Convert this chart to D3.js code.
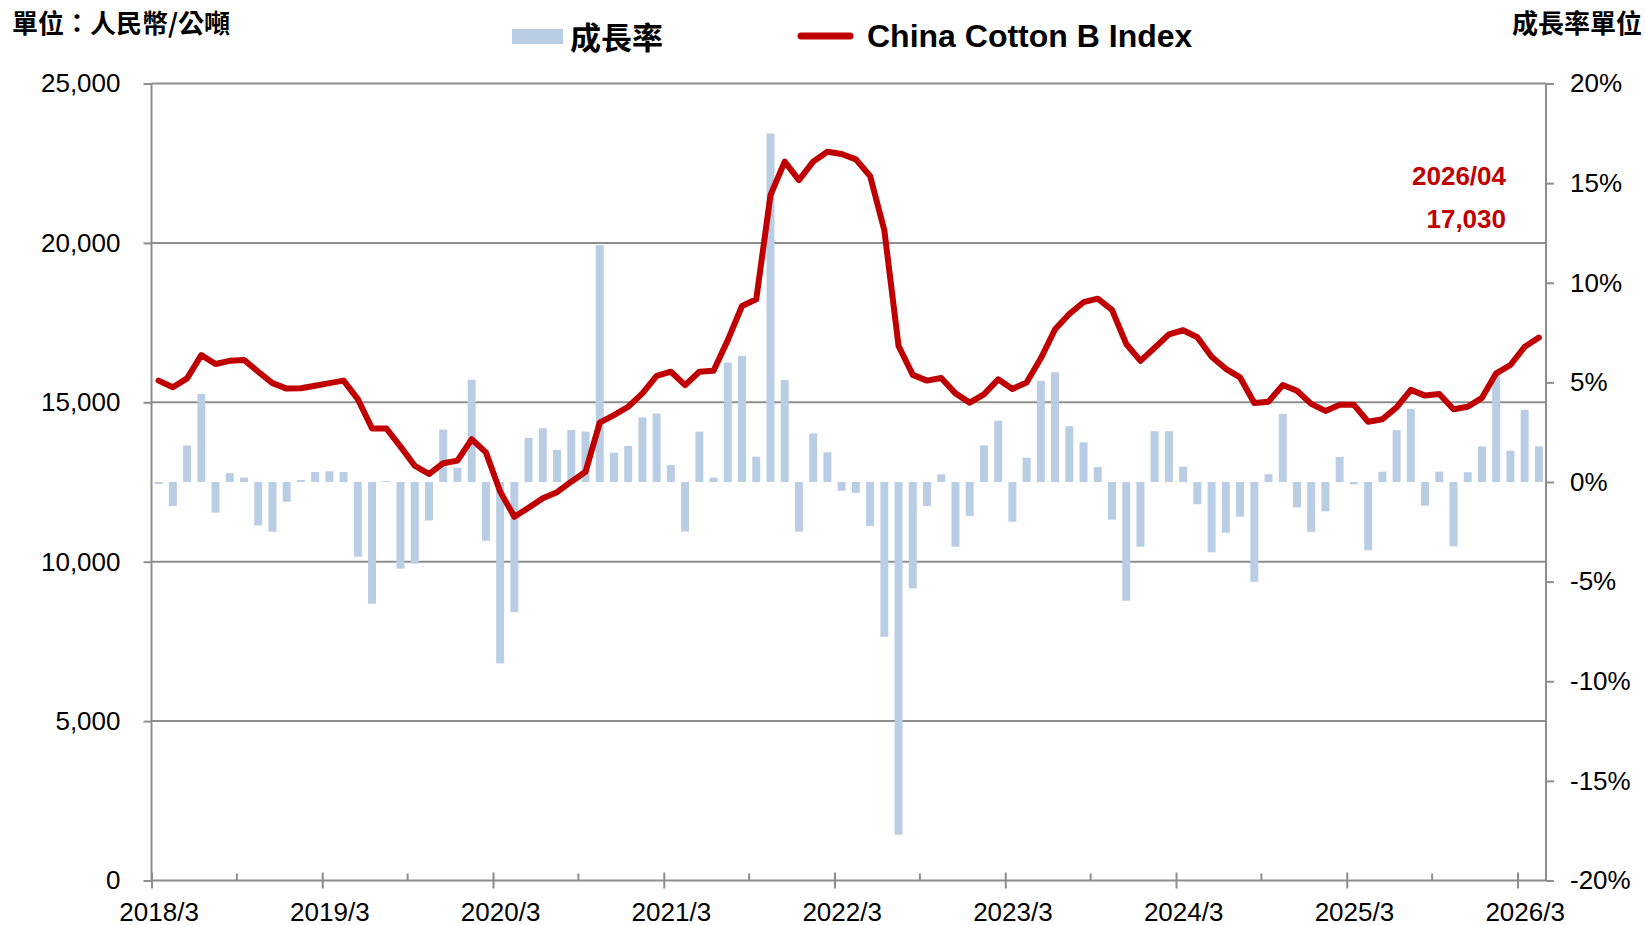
<!DOCTYPE html>
<html>
<head>
    <meta charset="utf-8">
    <title>China Cotton B Index</title>
    <style>
        body { margin: 0; background: #fff; }
        text { font-family: "Liberation Sans", Arial, "Noto Sans CJK TC", sans-serif; }
        .cjk { font-family: "Noto Sans CJK TC", "Noto Sans CJK SC", sans-serif; }
    </style>
</head>
<body>
<div id="chart"></div>
<script src="https://cdn.jsdelivr.net/npm/d3@7/dist/d3.min.js"></script>
<script>

    // monthly categories, 2018/03 .. 2026/04
    let months = [];
    for (let yr = 2018; yr <= 2026; yr++) {
        for (let m = 1; m <= 12; m++) {
            if ((yr === 2018 && m < 3) || (yr === 2026 && m > 4)) continue;
            months.push(yr + '/' + (m < 10 ? '0' + m : m));
        }
    }

    // China Cotton B Index, RMB / ton
    let price = [
        15680, 15470, 15750, 16480, 16200, 16300, 16330, 15960, 15600, 15430,
        15440, 15520, 15600, 15680, 15100, 14180, 14180, 13610, 13010, 12750,
        13090, 13170, 13840, 13430, 12200, 11410, 11690, 11990, 12180, 12510,
        12820, 14360, 14600, 14860, 15280, 15830, 15960, 15540, 15960, 15990,
        16950, 18020, 18230, 21500, 22550, 21970, 22550, 22860, 22790, 22620,
        22100, 20400, 16770, 15860, 15680, 15760, 15280, 14990, 15250, 15720,
        15420, 15620, 16380, 17290, 17770, 18140, 18250, 17900, 16830, 16300,
        16710, 17130, 17260, 17040, 16430, 16050, 15780, 14980, 15020, 15540,
        15360, 14950, 14730, 14920, 14920, 14390, 14470, 14840, 15390, 15210,
        15260, 14780, 14860, 15140, 15910, 16170, 16740, 17030
    ];

    // monthly growth rate, %
    let growth = [
        -0.10, -1.20, 1.83, 4.42, -1.54, 0.44, 0.22, -2.18, -2.50, -0.99,
        0.10, 0.50, 0.54, 0.50, -3.75, -6.11, 0.05, -4.35, -4.10, -1.93,
        2.63, 0.72, 5.13, -2.95, -9.10, -6.53, 2.21, 2.70, 1.61, 2.61,
        2.53, 11.89, 1.47, 1.81, 3.24, 3.44, 0.85, -2.49, 2.53, 0.22,
        5.99, 6.32, 1.27, 17.49, 5.12, -2.49, 2.44, 1.49, -0.44, -0.54,
        -2.21, -7.77, -17.70, -5.34, -1.20, 0.38, -3.25, -1.71, 1.83, 3.08,
        -1.99, 1.22, 5.08, 5.51, 2.80, 1.99, 0.75, -1.89, -5.96, -3.25,
        2.55, 2.55, 0.77, -1.12, -3.53, -2.55, -1.74, -5.01, 0.39, 3.42,
        -1.27, -2.50, -1.47, 1.26, -0.12, -3.43, 0.52, 2.60, 3.67, -1.19,
        0.52, -3.23, 0.49, 1.78, 5.40, 1.57, 3.62, 1.79
    ];

    let xTickLabels = ['2018/3', '2019/3', '2020/3', '2021/3', '2022/3',
                       '2023/3', '2024/3', '2025/3', '2026/3'];
    let leftTicks = [0, 5000, 10000, 15000, 20000, 25000];
    let rightTicks = [-20, -15, -10, -5, 0, 5, 10, 15, 20];

    function translate(x, y) {
        return 'translate(' + x + ', ' + y + ')';
    }

    let svgWidth = 1645;
    let svgHeight = 925;
    let plotLeft = 151.5, plotRight = 1546, plotTop = 83.5, plotBottom = 880.5;
    let red = '#C00000';
    let barColor = '#B9CDE5';
    let gridColor = '#8E8E8E';

    let svg = d3.select('#chart')
        .append('svg')
        .attr('width', svgWidth)
        .attr('height', svgHeight);

    let x = d3.scaleBand()
        .domain(months)
        .range([plotLeft, plotRight])
        .paddingInner(0.44)
        .paddingOuter(0.22);

    // boundary scale for tick marks between categories
    let xi = d3.scaleLinear().domain([0, months.length]).range([plotLeft, plotRight]);

    let y = d3.scaleLinear().domain([0, 25000]).range([plotBottom, plotTop]);
    let yR = d3.scaleLinear().domain([-20, 20]).range([plotBottom, plotTop]);

    // gridlines
    svg.append('g')
        .selectAll('line')
        .data(leftTicks.filter(d => d > 0))
        .enter()
        .append('line')
          .attr('x1', plotLeft)
          .attr('x2', plotRight)
          .attr('y1', d => y(d))
          .attr('y2', d => y(d))
          .style('stroke', gridColor)
          .style('stroke-width', 2);

    // growth bars
    svg.append('g')
        .selectAll('rect')
        .data(growth)
        .enter()
        .append('rect')
          .attr('x', (d, i) => x(months[i]))
          .attr('width', x.bandwidth())
          .attr('y', d => yR(Math.max(d, 0)))
          .attr('height', d => Math.abs(yR(d) - yR(0)))
          .style('fill', barColor);

    // left axis
    let yAxis = d3.axisLeft(y)
        .tickValues(leftTicks)
        .tickSize(8)
        .tickPadding(23)
        .tickFormat(d3.format(','));
    let gl = svg.append('g')
        .attr('transform', translate(plotLeft, 0))
        .call(yAxis);

    // right axis
    let yRAxis = d3.axisRight(yR)
        .tickValues(rightTicks)
        .tickSize(8)
        .tickPadding(16)
        .tickFormat(d => d + '%');
    let gr = svg.append('g')
        .attr('transform', translate(plotRight, 0))
        .call(yRAxis);

    // bottom axis, major ticks every 12 months and minor every 6,
    // labels centred on the month they name
    let xAxis = d3.axisBottom(xi)
        .tickValues(d3.range(0, 97, 12))
        .tickSize(8)
        .tickFormat((d, i) => xTickLabels[i]);
    let gx = svg.append('g')
        .attr('transform', translate(0, plotBottom))
        .call(xAxis);
    gx.selectAll('.tick line').attr('y1', -8).attr('y2', 8);
    gx.selectAll('.tick text')
        .attr('x', x.step() / 2)
        .attr('y', 40)
        .attr('dy', 0);

    svg.append('g')
        .selectAll('line')
        .data(d3.range(6, 97, 12))
        .enter()
        .append('line')
          .attr('x1', d => xi(d))
          .attr('x2', d => xi(d))
          .attr('y1', plotBottom - 7)
          .attr('y2', plotBottom)
          .style('stroke', gridColor)
          .style('stroke-width', 2);

    [gl, gr, gx].forEach(function(g) {
        g.selectAll('.domain').style('stroke', gridColor).style('stroke-width', 2);
        g.selectAll('.tick line').style('stroke', gridColor).style('stroke-width', 2);
        g.selectAll('.tick text')
          .style('font-size', '26px')
          .style('fill', '#000');
    });
    gl.select('.domain').attr('d', 'M0,' + plotTop + 'V' + plotBottom);
    gr.select('.domain').attr('d', 'M0,' + plotTop + 'V' + plotBottom);
    gx.select('.domain').attr('d', 'M' + plotLeft + ',0H' + plotRight);

    // price line
    let line = d3.line()
        .x((d, i) => x(months[i]) + x.bandwidth() / 2)
        .y(d => y(d));

    svg.append('path')
        .datum(price)
        .attr('d', line)
        .style('fill', 'none')
        .style('stroke', red)
        .style('stroke-width', 6)
        .style('stroke-linejoin', 'round')
        .style('stroke-linecap', 'round');

    // last value note
    let last = months.length - 1;
    svg.append('text')
        .attr('x', 1506)
        .attr('y', 185)
        .style('text-anchor', 'end')
        .style('font-size', '26px')
        .style('font-weight', 'bold')
        .style('fill', red)
        .text(months[last]);
    svg.append('text')
        .attr('x', 1506)
        .attr('y', 228)
        .style('text-anchor', 'end')
        .style('font-size', '26px')
        .style('font-weight', 'bold')
        .style('fill', red)
        .text(d3.format(',')(price[last]));

    // unit labels
    svg.append('text')
        .attr('class', 'cjk')
        .attr('x', 12)
        .attr('y', 33)
        .style('font-size', '26px')
        .style('font-weight', 'bold')
        .text('單位：人民幣/公噸');
    svg.append('text')
        .attr('class', 'cjk')
        .attr('x', 1642)
        .attr('y', 33)
        .style('text-anchor', 'end')
        .style('font-size', '26px')
        .style('font-weight', 'bold')
        .text('成長率單位');

    // legend
    svg.append('rect')
        .attr('x', 512)
        .attr('y', 29)
        .attr('width', 51)
        .attr('height', 15)
        .style('fill', barColor);
    svg.append('text')
        .attr('class', 'cjk')
        .attr('x', 570)
        .attr('y', 49)
        .style('font-size', '31px')
        .style('font-weight', 'bold')
        .text('成長率');
    svg.append('line')
        .attr('x1', 801)
        .attr('x2', 850)
        .attr('y1', 36)
        .attr('y2', 36)
        .style('stroke', red)
        .style('stroke-width', 7)
        .style('stroke-linecap', 'round');
    svg.append('text')
        .attr('x', 867)
        .attr('y', 47)
        .style('font-size', '32px')
        .style('font-weight', 'bold')
        .text('China Cotton B Index');

</script>
</body>
</html>
